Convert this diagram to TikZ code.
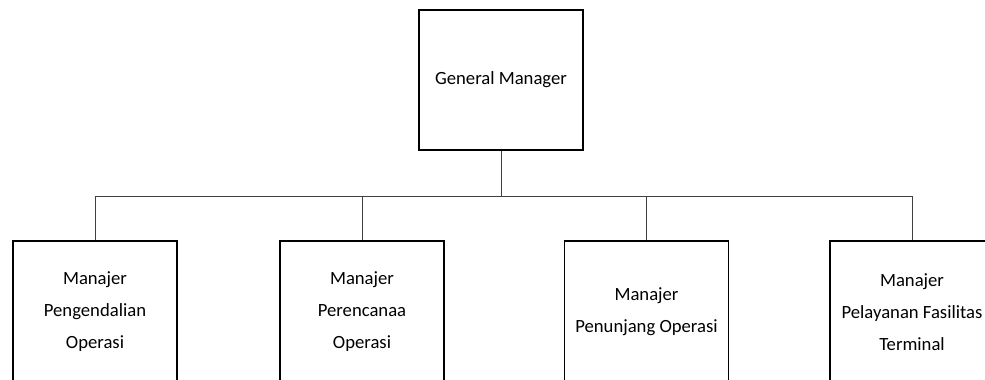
\documentclass[tikz,border=0pt]{standalone}
\usepackage{fontspec}
\setmainfont{Carlito}
\usetikzlibrary{positioning,calc}
\newcommand*{\BoxW}{123pt}
\newcommand*{\BoxFont}{\fontsize{14}{24}\selectfont}

\begin{document}
\begin{tikzpicture}[x=0.75pt,y=-0.75pt,
  post/.style={draw,line width=1.1pt,minimum width=\BoxW,align=center,font=\BoxFont,inner sep=0pt},
  link/.style={draw=black!75,line width=0.7pt}]
\useasboundingbox (0,0) rectangle (985,379);
\node[post,minimum height=105pt] (GM) at (501,80) {General Manager};
\node[post,minimum height=106.5pt] (M1) at (95,312) {Manajer\\Pengendalian\\Operasi};
\node[post,minimum height=106.5pt] (M2) at (362,312) {Manajer\\Perencanaa\\Operasi};
\node[post,minimum height=106.5pt] (M3) at (646.5,312) {Manajer\\Penunjang Operasi};
\node[post,minimum height=106.5pt] (M4) at (912,312) {Manajer\\Pelayanan Fasilitas\\Terminal};
\coordinate (Bus) at ($(GM.south)+(0,46)$);
\draw[link] (GM.south) -- (Bus);
\foreach \m in {M1,M2,M3,M4}
  \draw[link] (Bus) -| (\m.north);
\end{tikzpicture}
\end{document}
